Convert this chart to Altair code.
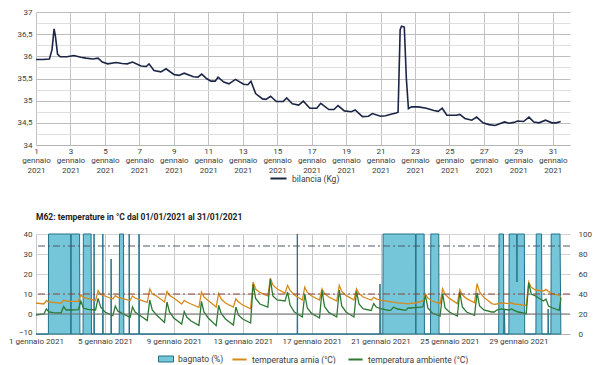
import altair as alt
import pandas as pd

FONT = "Roboto"
TXT = "#3c3c3c"

# ---------------- bilancia (Kg): day offset from 1 Jan 00:00, weight ----------------
W_DAY = [0.0, 0.4, 0.78, 0.93, 1.05, 1.13, 1.25, 1.4, 1.8, 2.2, 2.6, 2.9, 3.3, 3.6, 3.85,
         4.17, 4.65, 5.0, 5.3, 5.6, 6.1, 6.4, 6.56, 6.85, 7.25, 7.55, 8.0, 8.3, 8.6, 9.14,
         9.4, 9.62, 9.9, 10.15, 10.4, 10.57, 10.9, 11.2, 11.58, 12.05, 12.3, 12.48, 12.75,
         13.15, 13.35, 13.62, 13.95, 14.35, 14.55, 14.88, 15.25, 15.52, 15.9, 16.3, 16.53,
         17.0, 17.3, 17.53, 17.9, 18.3, 18.53, 18.95, 19.3, 19.53, 20.0, 20.3, 20.55, 20.9,
         21.02, 21.14, 21.22, 21.38, 21.5, 21.62, 21.8, 22.2, 22.66, 23.1, 23.35, 23.58,
         23.85, 24.4, 24.6, 24.9, 25.3, 25.58, 25.95, 26.3, 26.65, 27.2, 27.45, 27.75, 27.95,
         28.3, 28.62, 28.9, 29.2, 29.58, 29.95, 30.2, 30.46]
W_KG = [35.93, 35.93, 35.94, 36.15, 36.62, 36.45, 36.05, 35.99, 35.99, 36.02, 35.98, 35.96,
        35.94, 35.96, 35.87, 35.83, 35.86, 35.84, 35.83, 35.87, 35.78, 35.77, 35.83, 35.68,
        35.65, 35.72, 35.59, 35.57, 35.62, 35.54, 35.53, 35.60, 35.50, 35.44, 35.44, 35.53,
        35.42, 35.38, 35.48, 35.37, 35.36, 35.44, 35.16, 35.04, 35.03, 35.10, 34.98, 34.98,
        35.06, 34.93, 34.90, 34.99, 34.83, 34.83, 34.94, 34.80, 34.80, 34.89, 34.77, 34.75,
        34.79, 34.64, 34.65, 34.71, 34.65, 34.66, 34.69, 34.72, 34.74, 36.60, 36.68, 36.66,
        35.50, 34.82, 34.86, 34.86, 34.83, 34.78, 34.76, 34.83, 34.67, 34.67, 34.69, 34.60,
        34.56, 34.63, 34.50, 34.46, 34.44, 34.52, 34.49, 34.51, 34.54, 34.53, 34.63, 34.52,
        34.50, 34.56, 34.50, 34.50, 34.53]

# ---------------- temperature: readings per day at these hours ----------------
HOURS = [0, 11, 14.5, 18]
ARNIA = [
    [5.5, 5.0, 6.7, 6.0], [5.8, 5.3, 7.0, 6.5], [6.3, 6.3, 9.5, 8.3], [7.8, 6.7, 11.7, 9.8],
    [9.0, 7.5, 9.2, 8.3], [7.8, 6.7, 9.0, 8.0], [7.2, 5.8, 12.5, 10.0], [9.0, 6.0, 11.3, 9.3],
    [8.0, 5.0, 6.8, 6.0], [5.0, 3.3, 11.0, 8.5], [6.8, 3.5, 10.2, 7.5], [5.5, 3.5, 7.6, 6.0],
    [4.5, 2.6, 16.0, 12.5], [10.8, 9.0, 18.0, 14.5], [12.5, 10.5, 14.3, 11.8], [9.5, 7.0, 13.5, 10.8],
    [9.0, 7.0, 12.6, 10.2], [8.5, 6.5, 14.3, 11.3], [9.3, 7.0, 12.6, 10.2], [8.5, 7.0, 8.3, 7.6],
    [6.9, 6.3, 6.1, 5.9], [5.6, 5.2, 5.1, 5.3], [5.5, 6.5, 10.0, 8.0], [6.5, 5.2, 12.6, 9.8],
    [7.8, 5.2, 12.2, 9.5], [7.7, 5.6, 15.2, 11.0], [8.3, 5.2, 4.8, 5.0], [5.6, 5.2, 5.6, 5.0],
    [4.8, 4.3, 16.0, 13.3], [12.0, 11.5, 12.3, 11.3],
]
AMBIENTE = [
    [-0.5, 0.0, 2.5, 1.0], [0.7, 0.5, 3.7, 2.0], [2.0, 2.2, 6.5, 3.0], [2.3, 2.0, 7.8, 3.5],
    [1.0, -0.8, 4.0, 1.5], [0.3, -1.7, 3.5, 1.0], [-0.5, -3.3, 7.0, 2.0], [-0.5, -4.2, 6.0, 1.0],
    [-2.0, -5.0, 1.2, -1.5], [-3.5, -5.7, 6.3, 1.0], [-2.0, -5.8, 4.3, 0.3], [-2.5, -5.5, 3.5, -0.5],
    [-2.5, -4.5, 15.0, 7.8], [5.0, 3.5, 17.5, 9.0], [7.0, 6.5, 11.0, 4.5], [1.0, -1.5, 10.0, 3.0],
    [0.3, -2.0, 11.8, 3.8], [0.8, -1.5, 12.0, 4.0], [1.0, -1.5, 11.3, 5.0], [2.5, 1.8, 5.2, 3.5],
    [2.7, 1.8, 1.9, 3.4], [2.5, 1.8, 3.0, 3.0], [3.2, 3.5, 9.3, 3.0], [0.5, -1.0, 10.2, 3.0],
    [1.0, -1.0, 11.0, 3.5], [1.0, -0.7, 10.6, 4.0], [2.0, 1.0, 1.0, 2.0], [2.6, 2.0, 2.5, 1.8],
    [1.0, 0.2, 15.6, 10.0], [9.0, 6.5, 7.5, 4.0],
]
LAST_HOURS = [720, 729, 731.3]
ARNIA_LAST = [10.0, 9.3, 8.6]
AMBIENTE_LAST = [3.0, 1.8, 8.0]

# ---------------- bagnato (%) ----------------
BAG_DAY = [0.0, 0.72, 0.73, 2.02, 2.03, 2.04, 2.53, 2.55, 2.73, 2.75, 3.2, 3.22, 3.36, 3.37,
           3.39, 3.87, 3.88, 3.9, 4.35, 4.36, 4.38, 4.83, 4.85, 5.08, 5.1, 5.4, 5.41, 5.43,
           5.97, 5.98, 6.0, 15.16, 15.17, 15.19, 19.96, 19.97, 19.99, 20.13, 20.15, 22.04,
           22.05, 22.06, 22.53, 22.55, 22.9, 22.92, 23.38, 23.4, 26.86, 26.88, 27.14, 27.16,
           27.2, 27.22, 27.45, 27.47, 27.9, 27.92, 27.94, 28.35, 28.37, 29.02, 29.04, 29.35,
           29.37, 29.72, 29.73, 29.75, 29.89, 29.91, 30.42, 30.47]
BAG_PCT = [0, 0, 100, 100, 0, 100, 100, 0, 0, 100, 100, 0, 0, 100,
           0, 0, 100, 0, 0, 75, 0, 0, 100, 100, 0, 0, 100, 0,
           0, 100, 0, 0, 100, 0, 0, 50, 0, 0, 100, 100,
           0, 100, 100, 0, 0, 100, 100, 0, 0, 100, 100, 0,
           25, 0, 0, 100, 100, 52, 100, 100, 0, 0, 100, 100,
           0, 0, 25, 0, 0, 100, 100, 0]

REF_LEVELS = [34, 10, 0]
REF_COLORS = ["#4d5b6b", "#8a4638", "#6f6f6f"]
REF_DASH = [[7, 3, 2, 3], [7, 3, 2, 3], [1, 0]]

S_W = "bilancia (Kg)"
S_BAG = "bagnato (%)"
S_AR = "temperatura arnia (°C)"
S_AM = "temperatura ambiente (°C)"

base = pd.Timestamp("2021-01-01")


def iso_days(days):
    return [(base + pd.Timedelta(days=d)).strftime("%Y-%m-%dT%H:%M:%S") for d in days]


def iso_hours(hours):
    return [(base + pd.Timedelta(hours=h)).strftime("%Y-%m-%dT%H:%M:%S") for h in hours]


df_w = pd.DataFrame({"t": iso_days(W_DAY), "kg": W_KG, "sw": S_W})

t_hours = [d * 24 + h for d in range(len(ARNIA)) for h in HOURS] + LAST_HOURS
ar_vals = [v for row in ARNIA for v in row] + ARNIA_LAST
am_vals = [v for row in AMBIENTE for v in row] + AMBIENTE_LAST
df_t = pd.concat([
    pd.DataFrame({"t": iso_hours(t_hours), "T": ar_vals, "st": S_AR}),
    pd.DataFrame({"t": iso_hours(t_hours), "T": am_vals, "st": S_AM}),
])
df_b = pd.DataFrame({"t": iso_days(BAG_DAY), "v": BAG_PCT, "sb": S_BAG})


def jan(d):
    return alt.DateTime(year=2021, month=1, date=d)


XDOM = [jan(1), alt.DateTime(year=2021, month=2, date=1)]
W, H_TOP, H_BOT = 534, 133, 100
LBL = 8

# ---------------- top chart ----------------
top_x = alt.X("t:T", scale=alt.Scale(domain=XDOM),
              axis=alt.Axis(values=[jan(d) for d in range(1, 32, 2)],
                            labelExpr="[date(datum.value), 'gennaio', '2021']",
                            title=None, grid=True, gridColor="#c3c3c3", ticks=False,
                            tickSize=0, labelPadding=2, labelFlush=False,
                            labelOverlap=False, labelAngle=0, labelAlign="center",
                            labelLineHeight=9.5, domainColor="#b5b5b5"))
top_y = alt.Y("kg:Q", scale=alt.Scale(domain=[34, 37], nice=False),
              axis=alt.Axis(values=[34 + 0.25 * i for i in range(13)],
                            labelExpr="datum.value % 0.5 == 0 ? replace(toString(datum.value), '.', ',') : ''",
                            title=None, ticks=False, domain=False, labelPadding=4,
                            minExtent=21, maxExtent=21,
                            gridColor={"condition": {"test": "datum.value % 0.5 == 0", "value": "#bdbdbd"},
                                       "value": "#dedede"}))

top = alt.Chart(df_w).mark_line(strokeWidth=1.6).encode(
    x=top_x, y=top_y,
    color=alt.Color("sw:N", scale=alt.Scale(domain=[S_W], range=["#1b2546"]),
                    legend=alt.Legend(title=None, orient="none", legendX=233, legendY=157,
                                      symbolType="stroke", symbolSize=260, symbolStrokeWidth=2,
                                      labelFont=FONT, labelFontSize=8.5, labelColor=TXT)),
).properties(width=W, height=H_TOP)

# ---------------- bottom chart ----------------
bot_x = alt.X("t:T", scale=alt.Scale(domain=XDOM),
              axis=alt.Axis(values=[jan(d) for d in range(1, 32, 2)],
                            labelExpr="(date(datum.value) - 1) % 4 == 0 ? date(datum.value) + ' gennaio 2021' : ''",
                            title=None, grid=True, gridColor="#c8c8c8", ticks=False,
                            tickSize=0, labelPadding=3, labelFlush=False,
                            labelOverlap=False, labelAngle=0, labelAlign="center",
                            domainColor="#b5b5b5"))

area = alt.Chart(df_b).mark_area(stroke="#23708a", strokeWidth=1, fillOpacity=1).encode(
    x=bot_x,
    y=alt.Y("v:Q", scale=alt.Scale(domain=[0, 100], nice=False),
            axis=alt.Axis(orient="right", values=[0, 20, 40, 60, 80, 100], title=None,
                          grid=False, ticks=False, domain=False, labelPadding=8)),
    fill=alt.Fill("sb:N", scale=alt.Scale(domain=[S_BAG], range=["#74c6d8"]),
                  legend=alt.Legend(title=None, orient="none", legendX=122, legendY=117,
                                    symbolType="M-1,-0.4H1V0.4H-1Z", symbolSize=225,
                                    symbolStrokeColor="#23708a", symbolStrokeWidth=1,
                                    labelFont=FONT, labelFontSize=8.5, labelColor=TXT)),
)

lines = alt.Chart(df_t).mark_line(strokeWidth=1.3).encode(
    x=bot_x,
    y=alt.Y("T:Q", scale=alt.Scale(domain=[-10, 40], nice=False),
            axis=alt.Axis(orient="left", values=[-10, 0, 10, 20, 30, 40], title=None,
                          grid=True, gridColor="#d2d2d2", ticks=False, domain=False,
                          labelPadding=4, minExtent=21, maxExtent=21,
                          labelBaseline={"condition": {"test": "datum.value == -10", "value": "alphabetic"},
                                         "value": "middle"})),
    stroke=alt.Stroke("st:N", scale=alt.Scale(domain=[S_AR, S_AM], range=["#d68a1c", "#2c7a32"]),
                      legend=alt.Legend(title=None, orient="none", legendX=195, legendY=117,
                                        direction="horizontal", symbolType="stroke",
                                        symbolSize=200, symbolStrokeWidth=2, columnPadding=8,
                                        labelFont=FONT, labelFontSize=8.5, labelColor=TXT)),
    order=alt.Order("st:N"),
)

rules = []
for lvl, col, dash in zip(REF_LEVELS, REF_COLORS, REF_DASH):
    rules.append(
        alt.Chart(pd.DataFrame({"v": [lvl]})).mark_rule(color=col, strokeWidth=1, strokeDash=dash).encode(
            y=alt.Y("v:Q", scale=alt.Scale(domain=[-10, 40], nice=False), axis=None)
        )
    )

bottom = alt.layer(area, lines, *rules).resolve_scale(
    y="independent", fill="independent", stroke="independent"
).properties(
    width=W, height=H_BOT,
    title=alt.TitleParams("M62: temperature in °C dal 01/01/2021 al 31/01/2021", anchor="start",
                          frame="group", font=FONT, fontSize=8.5, fontWeight="bold",
                          color="#222222", offset=9),
)

chart = alt.vconcat(top, bottom, spacing=38).properties(
    padding={"left": 0, "top": 0, "right": 0, "bottom": 0}
).configure_view(stroke=None).configure_axis(
    labelFont=FONT, labelFontSize=LBL, labelColor=TXT
).configure_legend(labelFont=FONT)

chart.save("out.html", embed_options={"renderer": "svg", "actions": False})
